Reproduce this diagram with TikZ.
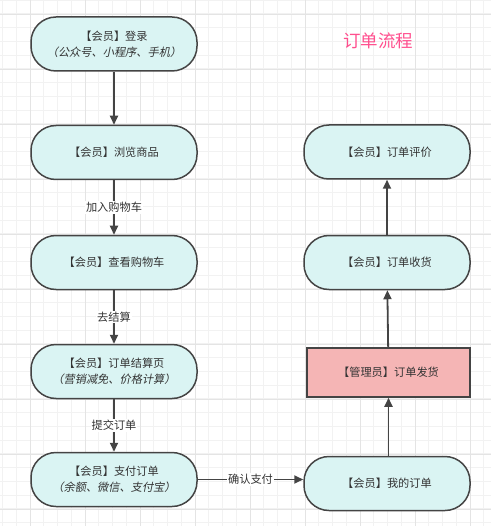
\documentclass[tikz,border=0pt]{standalone}
\usepackage{fontspec}
\setmainfont{Noto Sans CJK SC}
\newfontfamily\cjkslant[FakeSlant=0.2]{Noto Sans CJK SC}
\usetikzlibrary{arrows.meta}
\definecolor{boxfill}{HTML}{DAF4F3}
\definecolor{adminfill}{HTML}{F5B5B5}
\definecolor{lineclr}{HTML}{444444}
\definecolor{txtclr}{HTML}{333333}
\definecolor{titleclr}{HTML}{FF4F8E}
\definecolor{gridminor}{HTML}{F2F2F2}
\definecolor{gridmajor}{HTML}{E4E4E4}
\tikzstyle{member}=[rectangle, rounded corners=25pt, draw=lineclr, line width=1.5pt,
    fill=boxfill, text=txtclr, align=center, minimum width=166pt, minimum height=54pt,
    font=\fontsize{11.2}{16}\selectfont]
\tikzstyle{admin}=[member, rounded corners=0pt, fill=adminfill, minimum width=163pt, minimum height=49pt]
\newcommand{\member}{\node[member]}
\newcommand{\admin}{\node[admin]}

\begin{document}
\begin{tikzpicture}[x=1pt, y=-1pt
    ,every edge/.style={draw=lineclr, line width=1.8pt, -{Triangle[length=9pt,width=8pt]}}
    ,flowlabel/.style={fill=white, text=txtclr, inner sep=1pt, font=\fontsize{11.2}{14}\selectfont}
]
\useasboundingbox (0,0) rectangle (491,526);
% grid
\foreach \gx in {0,...,35} \draw[gridminor, line width=0.8pt] (2.5+13.75*\gx,0) -- (2.5+13.75*\gx,526);
\foreach \gy in {0,...,38} \draw[gridminor, line width=0.8pt] (0,13.75*\gy) -- (491,13.75*\gy);
\foreach \gx in {0,...,8} \draw[gridmajor, line width=0.9pt] (30+55*\gx,0) -- (30+55*\gx,526);
\foreach \gy in {0,...,9} \draw[gridmajor, line width=0.9pt] (0,14+55*\gy) -- (491,14+55*\gy);

\node[text=titleclr, font=\fontsize{17.5}{20}\selectfont] (title) at (378,41) {订单流程};

\member (login) at (114,44) {【会员】登录\\{\cjkslant （公众号、小程序、手机）}};
\member (browse) at (114,152.5) {【会员】浏览商品};
\member (cart) at (114,262.5) {【会员】查看购物车};
\member (checkout) at (114,371.5) {【会员】订单结算页\\{\cjkslant （营销减免、价格计算）}};
\member (pay) at (114,479.5) {【会员】支付订单\\{\cjkslant （余额、微信、支付宝）}};
\member (myorder) at (387,483.5) {【会员】我的订单};
\admin (ship) at (388.5,372.5) {【管理员】订单发货};
\member (receive) at (387,262.5) {【会员】订单收货};
\member (review) at (387,152) {【会员】订单评价};
\path
(login) edge (browse)
(browse) edge node [flowlabel] {加入购物车} (cart)
(cart) edge node [flowlabel] {去结算} (checkout)
(checkout) edge node [flowlabel] {提交订单} (pay)
(pay.east) edge node [flowlabel] {确认支付} (pay.east -| myorder.west)
(myorder.north -| ship.south) edge (ship.south)
(ship) edge (receive)
(receive) edge (review)
;
\end{tikzpicture}
\end{document}
